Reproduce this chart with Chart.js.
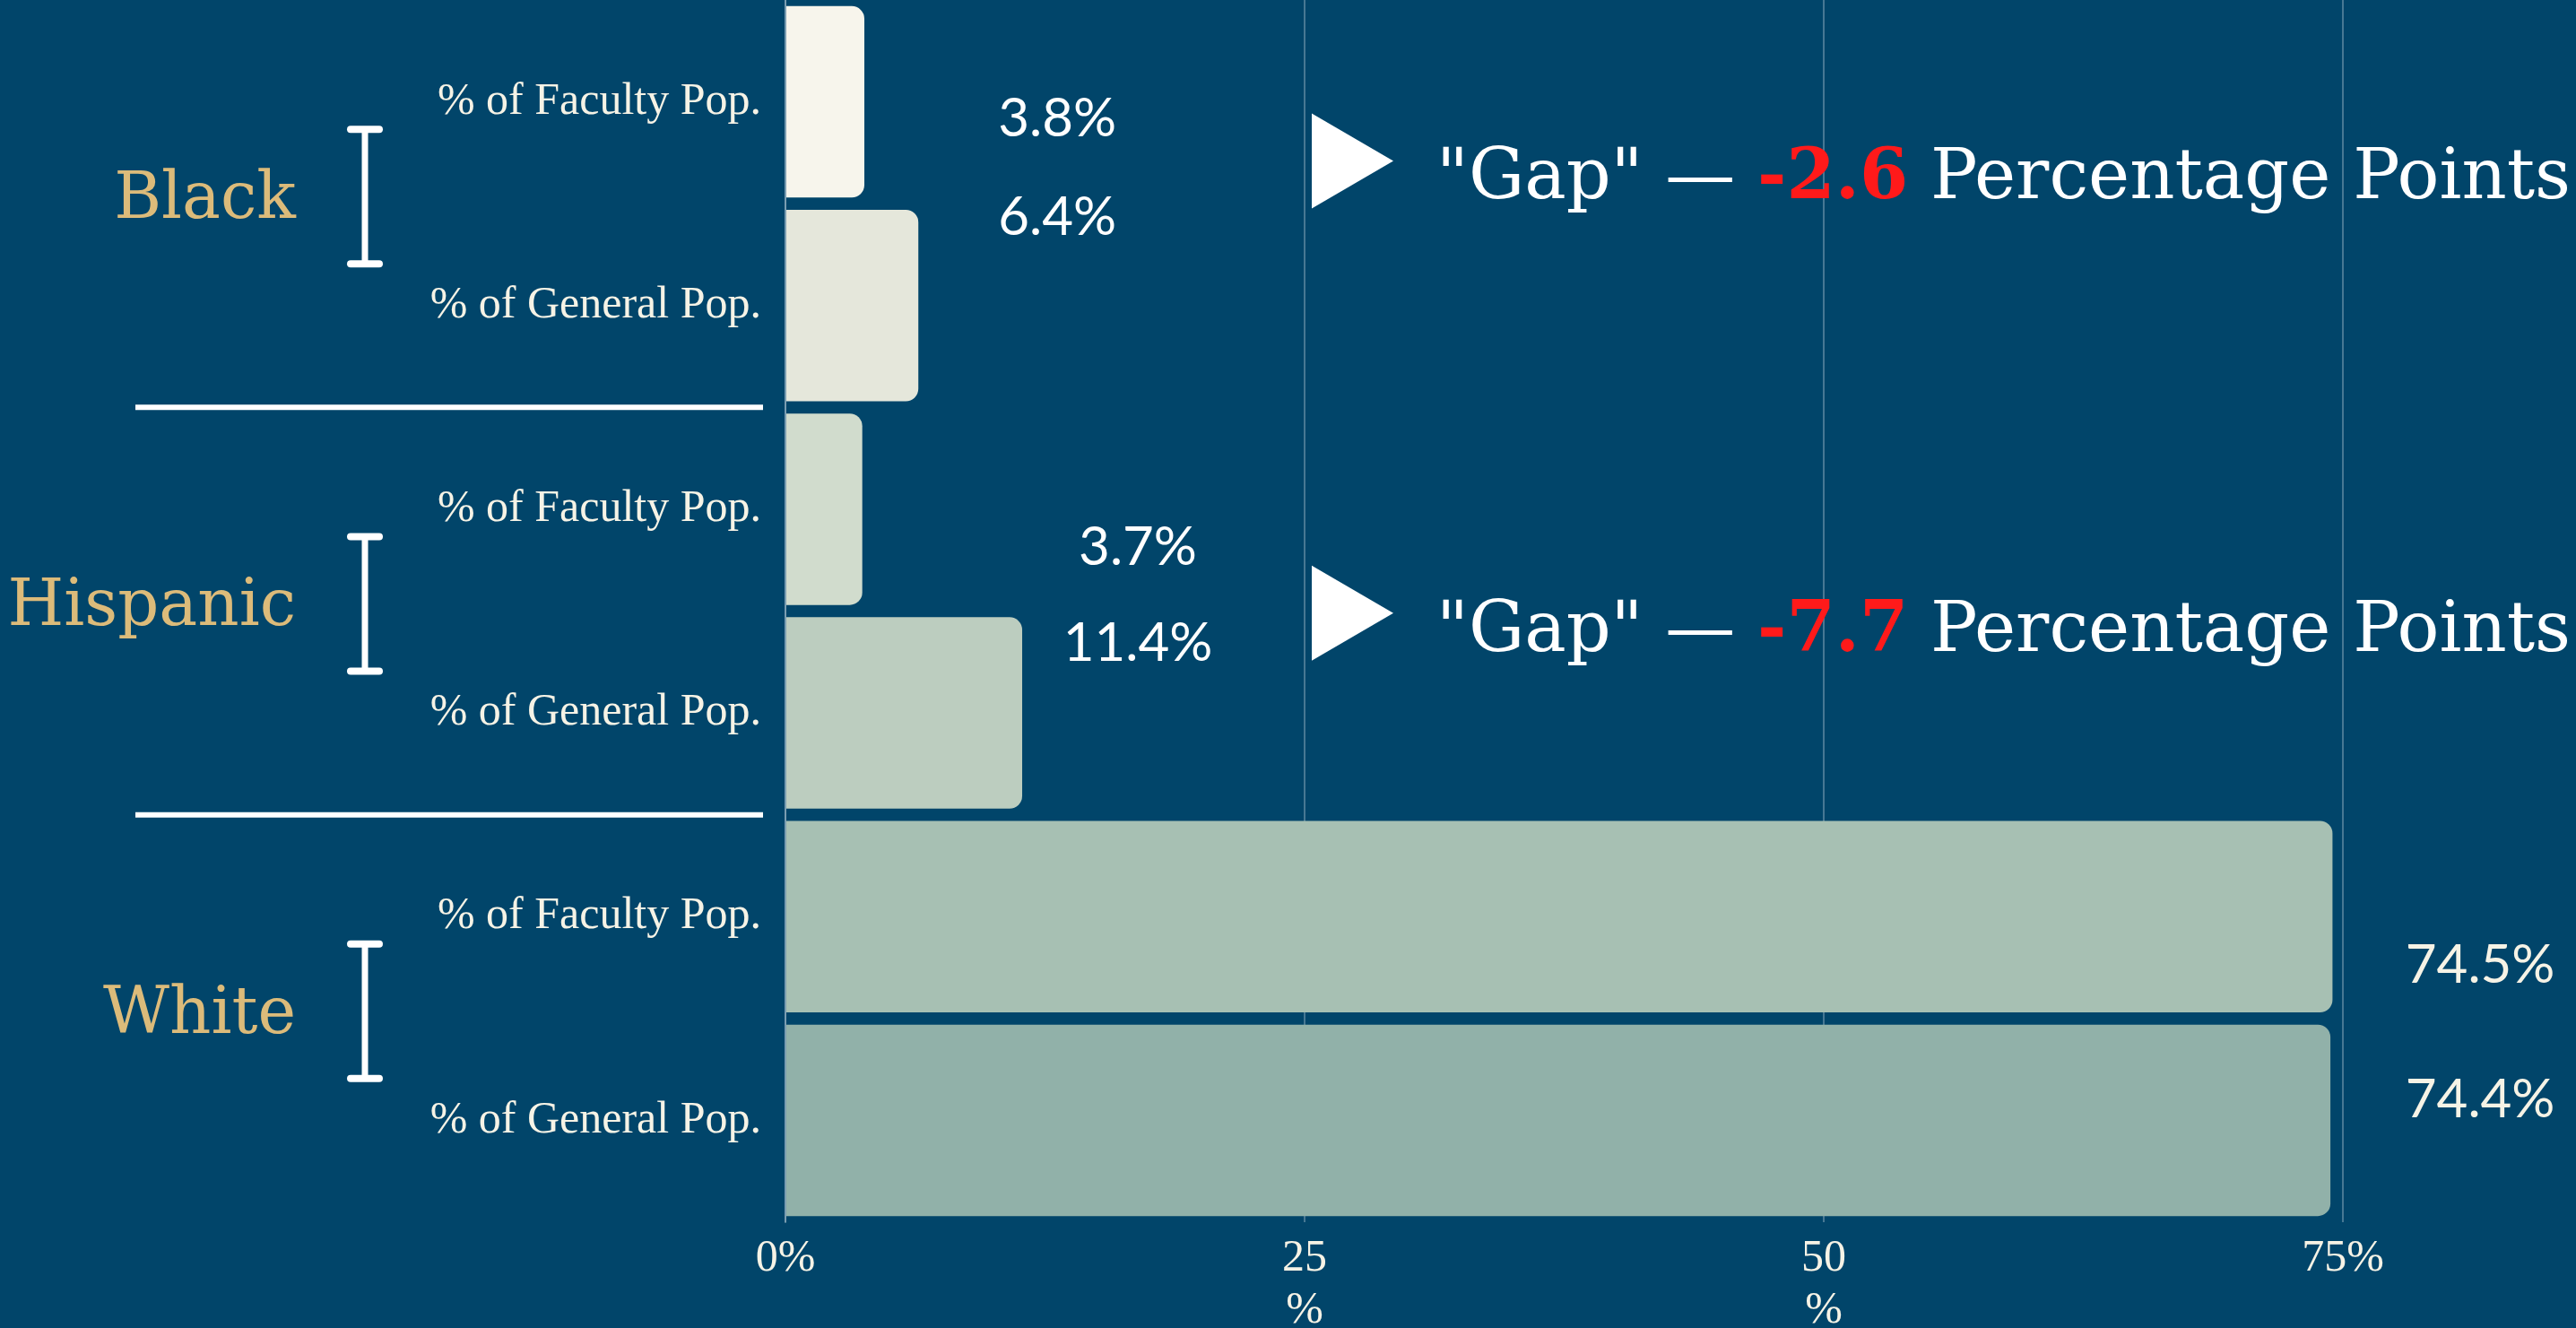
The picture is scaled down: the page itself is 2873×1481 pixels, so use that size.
<!DOCTYPE html>
<html><head><meta charset="utf-8">
<script src="https://cdn.jsdelivr.net/npm/chart.js@4.4.1/dist/chart.umd.min.js"></script>
<style>html,body{margin:0;padding:0;background:#01456a;overflow:hidden}#wrap{width:2873px;height:1481px;position:relative}</style>
</head><body><div id="wrap"><canvas id="c" width="2873" height="1481"></canvas></div>
<script>
const groups = ["Black", "Hispanic", "White"];
const subLabels = ["% of Faculty Pop.", "% of General Pop."];
const facultyPct = [3.8, 3.7, 74.5];
const generalPct = [6.4, 11.4, 74.4];
const gapPts = [-2.6, -7.7];
const xTickValues = [0, 25, 50, 75];
const barColors = ["#f7f5ec", "#e5e7db", "#d1dccd", "#bccdbf", "#a7c0b3", "#91b1a9"];

const BG = "#01456a";
const CREAM = "#f6f3e6";
const GOLD = "#dcbb7a";
const GRID = "rgba(255,255,255,0.28)";

const categories = [];
const values = [];
groups.forEach((g, i) => {
  categories.push(subLabels[0], subLabels[1]);
  values.push(facultyPct[i], generalPct[i]);
});

const decor = {
  id: "decor",
  beforeDraw(chart) {
    const ctx = chart.ctx;
    ctx.save();
    ctx.fillStyle = BG;
    ctx.fillRect(0, 0, chart.width, chart.height);
    ctx.restore();
  },
  afterDraw(chart, args, opts) {
    const ctx = chart.ctx, xs = chart.scales.x, ys = chart.scales.y;
    ctx.save();
    groups.forEach((g, gi) => {
      const i0 = gi * 2, i1 = gi * 2 + 1;
      const yc = (ys.getPixelForValue(i0) + ys.getPixelForValue(i1)) / 2;
      // group label
      ctx.font = '72px "DejaVu Serif"';
      ctx.fillStyle = GOLD;
      ctx.textAlign = "right";
      ctx.textBaseline = "middle";
      ctx.fillText(g, 330, yc - 3);
      // bracket
      ctx.strokeStyle = "#ffffff";
      ctx.lineCap = "round";
      const by = yc - 8;
      ctx.lineWidth = 7;
      ctx.beginPath(); ctx.moveTo(407, by - 73); ctx.lineTo(407, by + 73); ctx.stroke();
      ctx.lineWidth = 8;
      ctx.beginPath(); ctx.moveTo(391, by - 75); ctx.lineTo(423, by - 75); ctx.stroke();
      ctx.beginPath(); ctx.moveTo(391, by + 75); ctx.lineTo(423, by + 75); ctx.stroke();
      // separator
      if (gi < groups.length - 1) {
        const sy = (ys.getPixelForValue(i1) + ys.getPixelForValue(i1 + 1)) / 2;
        ctx.lineCap = "butt";
        ctx.lineWidth = 6;
        ctx.beginPath(); ctx.moveTo(151, sy); ctx.lineTo(851, sy); ctx.stroke();
      }
      // value labels
      const off = opts.labelOffsets[gi];
      ctx.font = '60px Lato';
      ctx.fillStyle = gi === 2 ? CREAM : "#ffffff";
      ctx.textAlign = "center";
      ctx.textBaseline = "middle";
      const lx = xs.getPixelForValue(generalPct[gi]) + off[0];
      ctx.fillText(facultyPct[gi].toFixed(1) + "%", lx, yc + off[1]);
      ctx.fillText(generalPct[gi].toFixed(1) + "%", lx, yc + off[2]);
      // gap annotation
      if (gi < gapPts.length) {
        const ty = ys.getPixelForValue(opts.gapAnchor[gi]);
        const tx = xs.getPixelForValue(25) + 8;
        ctx.fillStyle = "#ffffff";
        ctx.beginPath();
        ctx.moveTo(tx, ty - 53); ctx.lineTo(tx + 91, ty); ctx.lineTo(tx, ty + 53); ctx.closePath();
        ctx.fill();
        const parts = [
          ['"Gap" \u2014 ', "#ffffff", ""],
          [gapPts[gi].toFixed(1), "#ff1a1a", "bold "],
          [" Percentage Points", "#ffffff", ""]
        ];
        let total = 0;
        parts.forEach(p => { ctx.font = p[2] + '100px "DejaVu Serif"'; total += ctx.measureText(p[0]).width; });
        const size = 100 * 1265 / total;
        let x = 1602;
        ctx.textAlign = "left";
        ctx.textBaseline = "alphabetic";
        parts.forEach(p => {
          ctx.font = p[2] + size.toFixed(1) + 'px "DejaVu Serif"';
          ctx.fillStyle = p[1];
          ctx.fillText(p[0], x, ty + 42);
          x += ctx.measureText(p[0]).width;
        });
      }
    });
    ctx.restore();
  }
};

new Chart(document.getElementById("c"), {
  type: "bar",
  data: {
    labels: categories,
    datasets: [{
      data: values,
      backgroundColor: barColors,
      borderRadius: 14,
      barPercentage: 0.94,
      categoryPercentage: 1
    }]
  },
  options: {
    indexAxis: "y",
    responsive: false,
    animation: false,
    devicePixelRatio: 1,
    layout: { padding: { top: 0, right: 260, bottom: 0, left: 0 } },
    plugins: {
      legend: { display: false },
      tooltip: { enabled: false },
      decor: {
        gapAnchor: [0.29, 2.51],
        labelOffsets: [[155, -95, 15], [129, -71, 36], [167, -59, 91]]
      }
    },
    scales: {
      x: {
        type: "linear",
        min: 0, max: 75,
        afterBuildTicks: s => { s.ticks = xTickValues.map(v => ({ value: v })); },
        ticks: {
          color: CREAM,
          font: { family: '"Liberation Serif"', size: 50, lineHeight: 1.16 },
          padding: 12,
          maxRotation: 0,
          callback: v => (v === 0 || v === 75) ? v + "%" : [String(v), "%"]
        },
        grid: { color: GRID, lineWidth: 2, drawTicks: false },
        border: { display: false },
        afterFit: s => { s.height = 118; s.paddingLeft = 0; s.paddingRight = 0; }
      },
      y: {
        ticks: {
          color: CREAM,
          font: { family: '"Liberation Serif"', size: 50 },
          padding: 19
        },
        grid: { display: false },
        border: { color: GRID, width: 2 },
        afterFit: s => { s.width = 876; s.paddingTop = 0; s.paddingBottom = 0; }
      }
    }
  },
  plugins: [decor]
});
</script></body></html>
